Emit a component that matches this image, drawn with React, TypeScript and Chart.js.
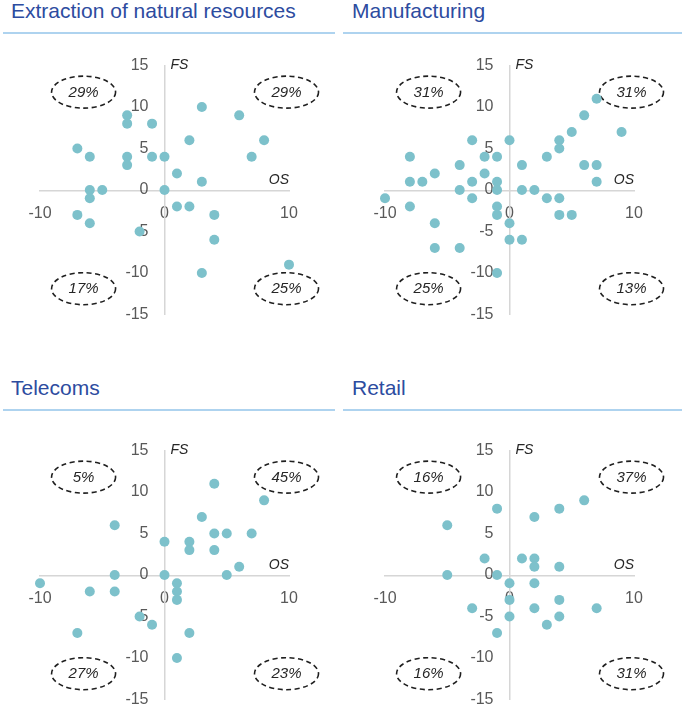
import React, { useEffect, useRef } from "react";
import { Chart, registerables } from "chart.js";

Chart.register(...registerables);

// ---------- data ----------
const panelTitles = ["Extraction of natural resources", "Manufacturing", "Telecoms", "Retail"];

const xAxisName = "OS";
const yAxisName = "FS";

const xTickStep = 10;
const yTickStep = 5;
const xRange = [-10, 10];
const yRange = [-15, 15];

// quadrant shares: top-left, top-right, bottom-left, bottom-right
const extractionShares = ["29%", "29%", "17%", "25%"];
const manufacturingShares = ["31%", "31%", "25%", "13%"];
const telecomsShares = ["5%", "45%", "27%", "23%"];
const retailShares = ["16%", "37%", "16%", "31%"];

const extractionOS = [3, 6, -3, -3, -1, 2, 8, -7, -6, -3, -3, -1, 0, 7, 1, 3, -6, -5, 0, -6, 1, 2, -7, 4, -6, -2, 4, 3, 10];
const extractionFS = [10, 9, 9, 8, 8, 6, 6, 5, 4, 4, 3, 4, 4, 4, 2, 1, 0, 0, 0, -1, -2, -2, -3, -3, -4, -5, -6, -10, -9];

const manufacturingOS = [7, 6, 5, 9, 4, 4, 3, 6, 7, 7, 0, -3, -8, -2, -1, -4, 1, -6, -2, -8, -7, -3, -1, -4, -1, 1, 2, -10, -3, 3, 4, -8, -1, -1, 4, 5, -6, 0, -6, -4, 0, 1, -1];
const manufacturingFS = [11, 9, 7, 7, 6, 5, 4, 3, 3, 1, 6, 6, 4, 4, 4, 3, 3, 2, 2, 1, 1, 1, 1, 0, 0, 0, 0, -1, -1, -1, -1, -2, -2, -3, -3, -3, -4, -4, -7, -7, -6, -6, -10];

const telecomsOS = [4, 8, 3, -4, 4, 5, 7, 0, 2, 2, 4, 6, -4, 0, 5, -10, 1, -6, -4, 1, 1, -2, -1, -7, 2, 1];
const telecomsFS = [11, 9, 7, 6, 5, 5, 5, 4, 4, 3, 3, 1, 0, 0, 0, -1, -1, -2, -2, -2, -3, -5, -6, -7, -7, -10];

const retailOS = [6, -1, 4, 2, -5, -2, 1, 2, 2, 4, -5, -1, 0, 2, 0, 4, -3, 2, 7, 0, 4, 3, -1];
const retailFS = [9, 8, 8, 7, 6, 2, 2, 2, 1, 1, 0, 0, -1, -1, -3, -3, -4, -4, -4, -5, -5, -6, -7];

// ---------- styling ----------
const FONT = '"Liberation Sans", Arial, Helvetica, sans-serif';
const POINT_COLOR = "#7dc1cb";
const AXIS_COLOR = "#d6d6d6";
const TICK_COLOR = "#595959";
const TITLE_COLOR = "#2d4c9f";
const RULE_COLOR = "#aed3ef";

// note ellipse placement (data units)
const NOTE_X_LEFT = -6.5;
const NOTE_X_RIGHT = 9.8;
const NOTE_Y_TOP = 11.8;
const NOTE_Y_BOTTOM = -11.9;

const quadrantPlugin = {
  id: "quadrantNotes",
  beforeDatasetsDraw(chart: any, _args: any, opts: any) {
    const { ctx } = chart;
    const xs = chart.scales.x;
    const ys = chart.scales.y;
    ctx.save();
    (opts.shares as string[]).forEach((label, i) => {
      const cx = xs.getPixelForValue(i % 2 === 0 ? NOTE_X_LEFT : NOTE_X_RIGHT);
      const cy = ys.getPixelForValue(i < 2 ? NOTE_Y_TOP : NOTE_Y_BOTTOM);
      ctx.beginPath();
      ctx.setLineDash([5, 3.5]);
      ctx.lineWidth = 1.6;
      ctx.strokeStyle = "#1f1f1f";
      ctx.ellipse(cx, cy, 32, 16, 0, 0, Math.PI * 2);
      ctx.stroke();
      ctx.setLineDash([]);
      ctx.font = `italic 15px ${FONT}`;
      ctx.fillStyle = "#262626";
      ctx.textAlign = "center";
      ctx.textBaseline = "middle";
      ctx.fillText(label, cx, cy + 0.5);
    });
    ctx.font = `italic 14px ${FONT}`;
    ctx.fillStyle = "#262626";
    ctx.textBaseline = "middle";
    ctx.textAlign = "left";
    ctx.fillText(yAxisName, xs.getPixelForValue(0) + 6, ys.getPixelForValue(yRange[1]));
    ctx.textAlign = "right";
    ctx.fillText(xAxisName, xs.getPixelForValue(xRange[1]), ys.getPixelForValue(0) - 10);
    ctx.restore();
  },
};

type PanelProps = {
  title: string;
  os: number[];
  fs: number[];
  shares: string[];
  col: number;
  row: number;
};

function Panel({ title, os, fs, shares, col, row }: PanelProps) {
  const ref = useRef<HTMLCanvasElement | null>(null);

  useEffect(() => {
    if (!ref.current) return;
    const tickFont = { family: FONT, size: 16 };
    const chart = new Chart(ref.current, {
      type: "scatter",
      data: {
        datasets: [
          {
            data: os.map((x, i) => ({ x, y: fs[i] })),
            backgroundColor: POINT_COLOR,
            borderWidth: 0,
            pointRadius: 5,
            pointHoverRadius: 5,
            clip: false as any,
          },
        ],
      },
      options: {
        animation: false,
        responsive: false,
        events: [],
        layout: { padding: { left: 40, right: 46, top: 22, bottom: 16 } },
        plugins: {
          legend: { display: false },
          tooltip: { enabled: false },
          quadrantNotes: { shares },
        } as any,
        scales: {
          x: {
            type: "linear",
            position: "center",
            min: xRange[0],
            max: xRange[1],
            ticks: { stepSize: xTickStep, padding: 14, font: tickFont, color: TICK_COLOR, maxRotation: 0 },
            grid: { display: false, drawTicks: false },
            border: { display: true, color: AXIS_COLOR, width: 1.5 },
          },
          y: {
            type: "linear",
            position: "center",
            min: yRange[0],
            max: yRange[1],
            ticks: { stepSize: yTickStep, padding: 16, font: tickFont, color: TICK_COLOR },
            grid: { display: false, drawTicks: false },
            border: { display: true, color: AXIS_COLOR, width: 1.5 },
          },
        },
      },
      plugins: [quadrantPlugin],
    });
    return () => chart.destroy();
  }, [os, fs, shares]);

  return (
    <>
      <div
        style={{
          position: "absolute",
          left: col === 0 ? 11 : 352,
          top: row * 377,
          fontFamily: FONT,
          fontSize: 21,
          lineHeight: "21px",
          color: TITLE_COLOR,
          whiteSpace: "nowrap",
        }}
      >
        {title}
      </div>
      <div
        style={{
          position: "absolute",
          left: col === 0 ? 3 : 343,
          top: 32 + row * 377,
          width: col === 0 ? 332 : 339,
          height: 2,
          background: RULE_COLOR,
        }}
      />
      <canvas
        ref={ref}
        width={335}
        height={300}
        style={{ position: "absolute", left: col * 345, top: 40 + row * 385, width: 335, height: 300 }}
      />
    </>
  );
}

export default function App() {
  return (
    <div
      style={{
        position: "absolute",
        left: 0,
        top: 0,
        width: 685,
        height: 718,
        overflow: "hidden",
        background: "#ffffff",
      }}
    >
      <Panel title={panelTitles[0]} os={extractionOS} fs={extractionFS} shares={extractionShares} col={0} row={0} />
      <Panel title={panelTitles[1]} os={manufacturingOS} fs={manufacturingFS} shares={manufacturingShares} col={1} row={0} />
      <Panel title={panelTitles[2]} os={telecomsOS} fs={telecomsFS} shares={telecomsShares} col={0} row={1} />
      <Panel title={panelTitles[3]} os={retailOS} fs={retailFS} shares={retailShares} col={1} row={1} />
    </div>
  );
}
